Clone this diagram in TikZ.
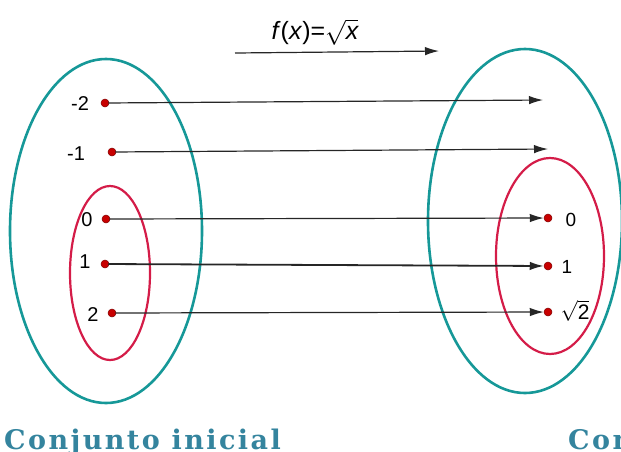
\documentclass[tikz,border=0pt]{standalone}
\usepackage{fontspec}
\setmainfont{Liberation Sans}
\newfontfamily\titlefont[LetterSpace=9]{DejaVu Serif}
\usetikzlibrary{arrows.meta}
\definecolor{setteal}{RGB}{22,152,152}
\definecolor{subred}{RGB}{212,28,72}
\definecolor{dotred}{RGB}{200,0,0}
\definecolor{capblue}{RGB}{52,132,158}

\begin{document}
\begin{tikzpicture}[
    x=1pt, y=-1pt,
    every node/.style={font=\fontsize{20}{24}\selectfont},
    bigset/.style={draw=setteal, line width=2.6pt},
    subset/.style={draw=subred, line width=2.2pt},
    dot/.style={circle, fill=dotred, draw=red!50!black, line width=0.5pt, inner sep=0pt, minimum size=8pt},
    num/.style={inner sep=0pt},
    maps/.style={-{Latex[length=14pt, width=8.5pt]}, line width=1.2pt, black!85, shorten <=-1pt},
    caption/.style={font=\titlefont\bfseries\fontsize{27}{32}\selectfont, text=capblue, anchor=base west, inner sep=0pt}
]
\path[use as bounding box, clip] (0,0) rectangle (621,451);

% sets
\draw[bigset] (106,231) ellipse (96 and 172);
\draw[subset] (110,273) ellipse (40 and 87);
\draw[bigset] (525,221) ellipse (97 and 172);
\draw[subset] (550,256) ellipse (54 and 98);

% domain points
\node[dot] (xm2) at (105,103) {};
\node[dot] (xm1) at (112,152) {};
\node[dot] (x0) at (106,219) {};
\node[dot] (x1) at (105,264) {};
\node[dot] (x2) at (112,313) {};
\node[num] (lm2) at (80,104) {-2};
\node[num] (lm1) at (76,154) {-1};
\node[num] (l0) at (87,220) {0};
\node[num] (l1) at (85,262) {1};
\node[num] (l2) at (93,315) {2};

% images
\node[dot] (y0) at (548,218) {};
\node[dot] (y1) at (548,266) {};
\node[dot] (y2) at (548,312) {};
\node[num, font=\fontsize{19}{22}\selectfont] (r0) at (571,220) {0};
\node[num, font=\fontsize{19}{22}\selectfont] (r1) at (567,267) {1};
\node[num, font=\fontsize{21}{24}\selectfont] (r2) at (575,311) {$\sqrt{\mbox{2}}$};
\coordinate (ym2) at (543,100);
\coordinate (ym1) at (548,149);

\draw[maps] (xm2) -- (ym2);
\draw[maps] (xm1) -- (ym1);
\draw[maps] (x0) -- (y0);
\draw[maps, line width=1.8pt] (x1) -- (y1);
\draw[maps] (x2) -- (y2);

% function
\coordinate (fstart) at (235,53);
\coordinate (fend) at (439,51);
\draw[maps, shorten <=0pt] (fstart) -- (fend);
\node[font=\fontsize{25}{30}\selectfont, inner sep=1pt] (rule) at (315,32) {\textit{f}(\textit{x})=$\sqrt{\mbox{\itshape x}}$};

\node[caption] (dom) at (4,449) {Conjunto inicial};
\node[caption] (cod) at (568,449) {Conjunto final};
\end{tikzpicture}
\end{document}
